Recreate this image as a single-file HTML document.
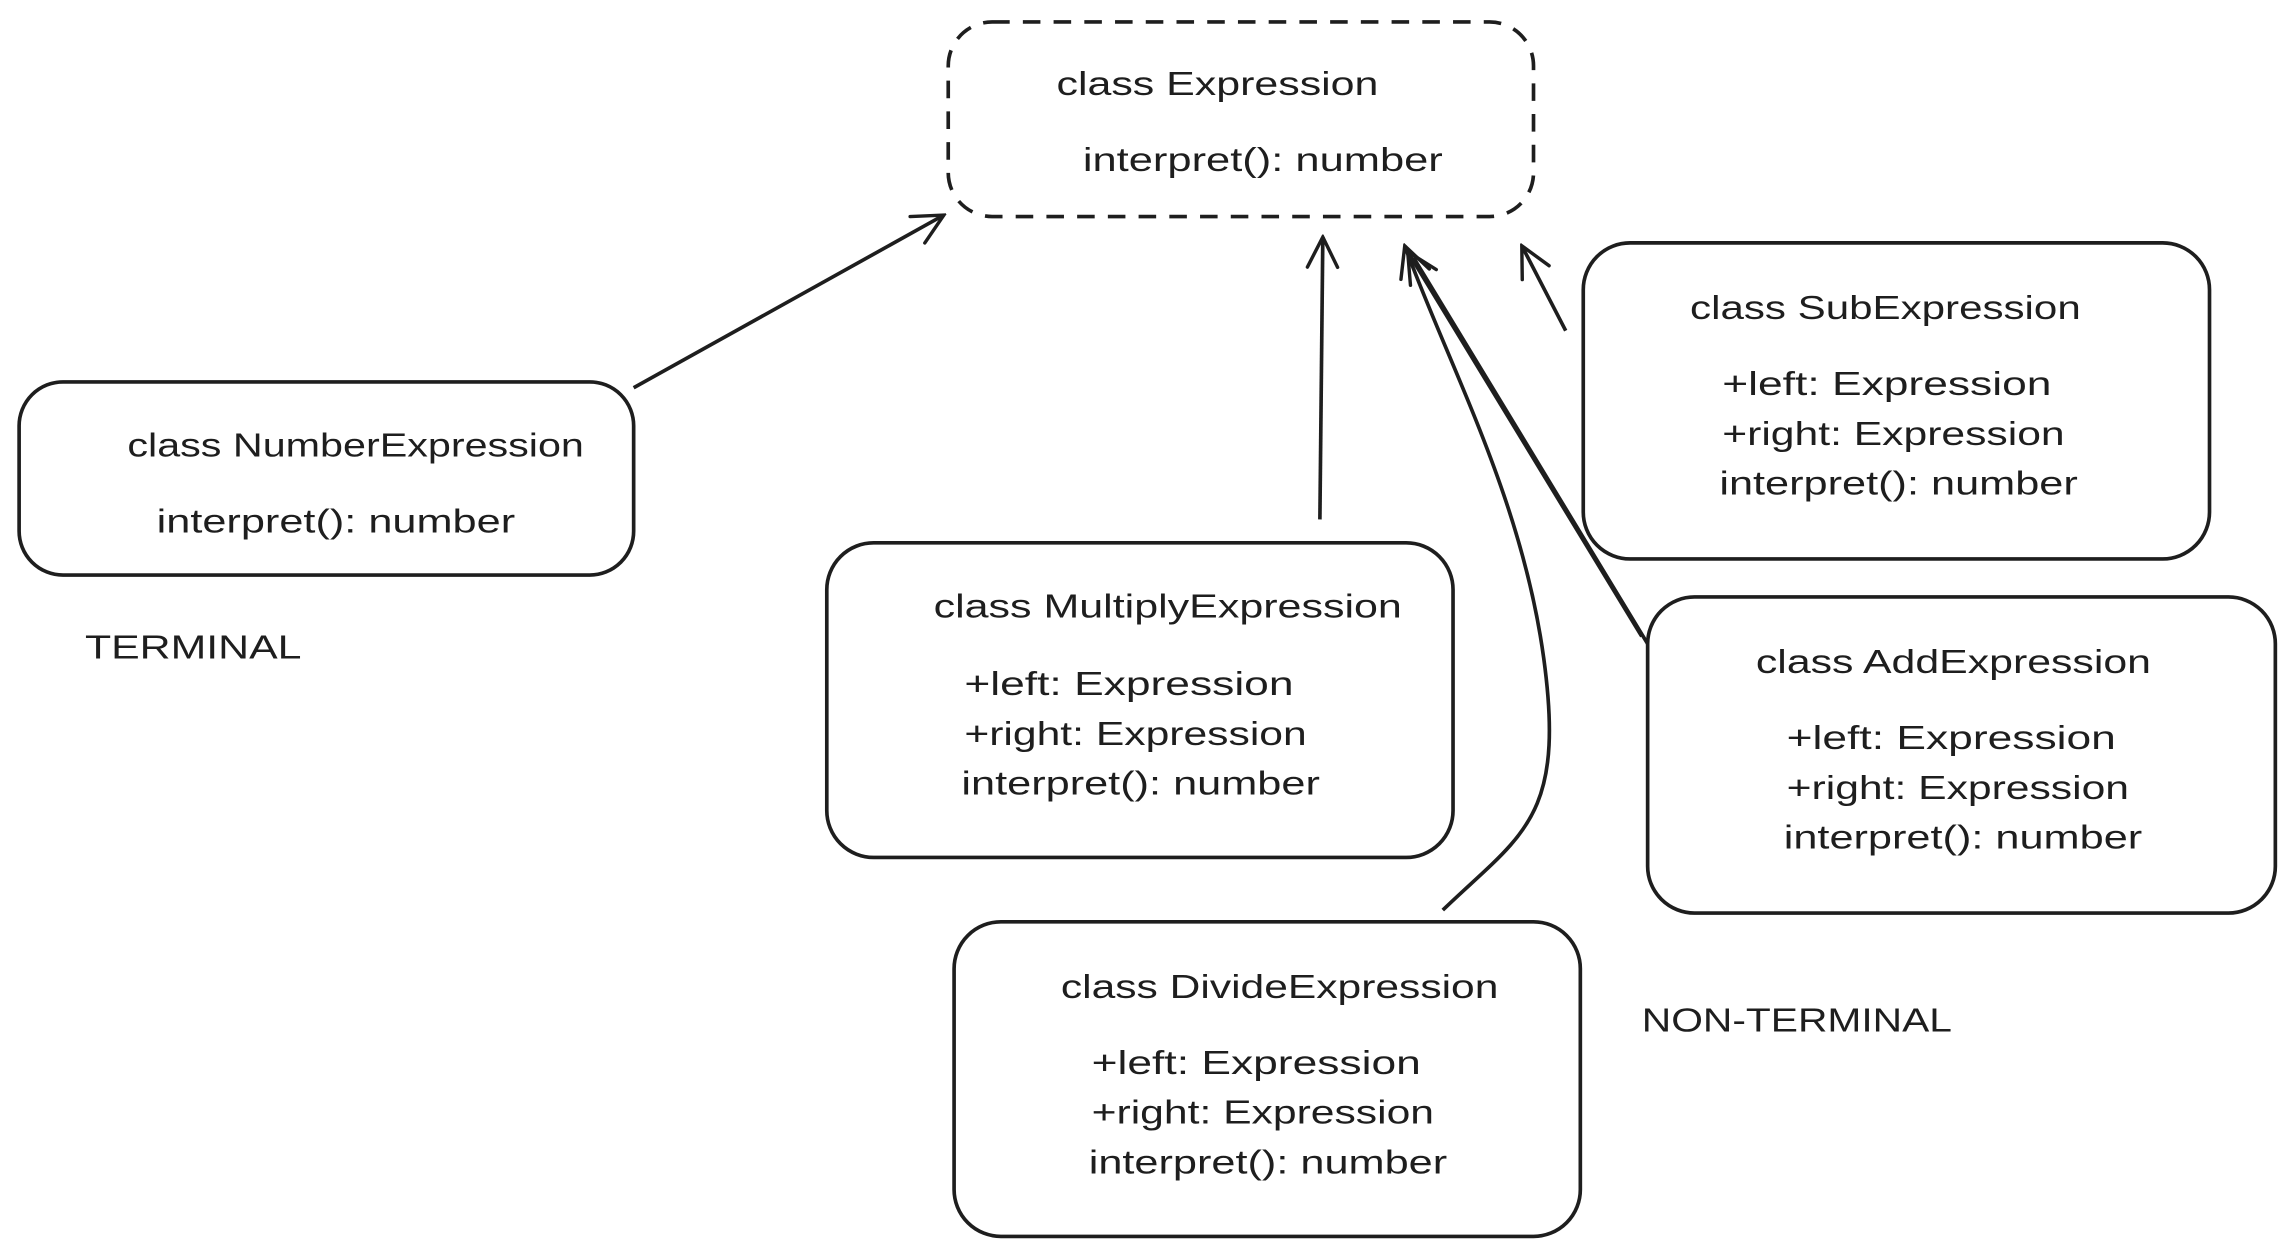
<!DOCTYPE html>
<html><head><meta charset="utf-8"><style>
html,body{margin:0;padding:0;background:#fff;width:2293px;height:1256px;overflow:hidden}
svg{display:block}
text{font-family:"Liberation Sans",sans-serif;font-size:23px;fill:#1e1e1e}
</style></head><body>
<svg width="2293" height="1256" viewBox="0 0 1567 858.4" xmlns="http://www.w3.org/2000/svg">
<defs>
<marker id="a" markerWidth="30" markerHeight="30" refX="0" refY="0" orient="auto" markerUnits="userSpaceOnUse" viewBox="-30 -15 32 30">
<path d="M-22,-11 L0,0 L-22,11" fill="none" stroke="#1e1e1e" stroke-width="2.5" stroke-linecap="round"/>
</marker>
</defs>
<g fill="none" stroke="#1e1e1e" stroke-width="2.5">
<rect x="648" y="15" width="400" height="133" rx="30" stroke-dasharray="12 9"/>
<rect x="13" y="261" width="420" height="132" rx="30"/>
<rect x="565" y="371" width="428" height="215" rx="32"/>
<rect x="1082" y="166" width="428" height="216" rx="32"/>
<rect x="1126" y="408" width="429" height="216" rx="32"/>
<rect x="652" y="630" width="428" height="215" rx="32"/>
<line x1="433" y1="265" x2="645" y2="147" marker-end="url(#a)"/>
<line x1="902" y1="355" x2="904" y2="162" marker-end="url(#a)"/>
<path d="M986,622 C1040,570 1070,560 1055,450 C1040,340 990,250 960,168" marker-end="url(#a)"/>
<line x1="1122" y1="435" x2="962" y2="172" marker-end="url(#a)"/>
<line x1="1126" y1="440" x2="966" y2="176"/>
<line x1="1070" y1="226" x2="1040" y2="168" marker-end="url(#a)"/>
</g>
<text x="722" y="65" textLength="220" lengthAdjust="spacingAndGlyphs">class Expression</text>
<text x="740" y="117" textLength="246" lengthAdjust="spacingAndGlyphs">interpret(): number</text>
<text x="87" y="312" textLength="312" lengthAdjust="spacingAndGlyphs">class NumberExpression</text>
<text x="107" y="364" textLength="245" lengthAdjust="spacingAndGlyphs">interpret(): number</text>
<text x="58" y="450" textLength="148" lengthAdjust="spacingAndGlyphs">TERMINAL</text>
<text x="638" y="422" textLength="320" lengthAdjust="spacingAndGlyphs">class MultiplyExpression</text>
<text x="659" y="475" textLength="225" lengthAdjust="spacingAndGlyphs">+left: Expression</text>
<text x="659" y="509" textLength="234" lengthAdjust="spacingAndGlyphs">+right: Expression</text>
<text x="657" y="543" textLength="245" lengthAdjust="spacingAndGlyphs">interpret(): number</text>
<text x="1155" y="218" textLength="267" lengthAdjust="spacingAndGlyphs">class SubExpression</text>
<text x="1177" y="270" textLength="225" lengthAdjust="spacingAndGlyphs">+left: Expression</text>
<text x="1177" y="304" textLength="234" lengthAdjust="spacingAndGlyphs">+right: Expression</text>
<text x="1175" y="338" textLength="245" lengthAdjust="spacingAndGlyphs">interpret(): number</text>
<text x="1200" y="460" textLength="270" lengthAdjust="spacingAndGlyphs">class AddExpression</text>
<text x="1221" y="512" textLength="225" lengthAdjust="spacingAndGlyphs">+left: Expression</text>
<text x="1221" y="546" textLength="234" lengthAdjust="spacingAndGlyphs">+right: Expression</text>
<text x="1219" y="580" textLength="245" lengthAdjust="spacingAndGlyphs">interpret(): number</text>
<text x="725" y="682" textLength="299" lengthAdjust="spacingAndGlyphs">class DivideExpression</text>
<text x="746" y="734" textLength="225" lengthAdjust="spacingAndGlyphs">+left: Expression</text>
<text x="746" y="768" textLength="234" lengthAdjust="spacingAndGlyphs">+right: Expression</text>
<text x="744" y="802" textLength="245" lengthAdjust="spacingAndGlyphs">interpret(): number</text>
<text x="1122" y="705" textLength="212" lengthAdjust="spacingAndGlyphs">NON-TERMINAL</text>
</svg>
</body></html>
